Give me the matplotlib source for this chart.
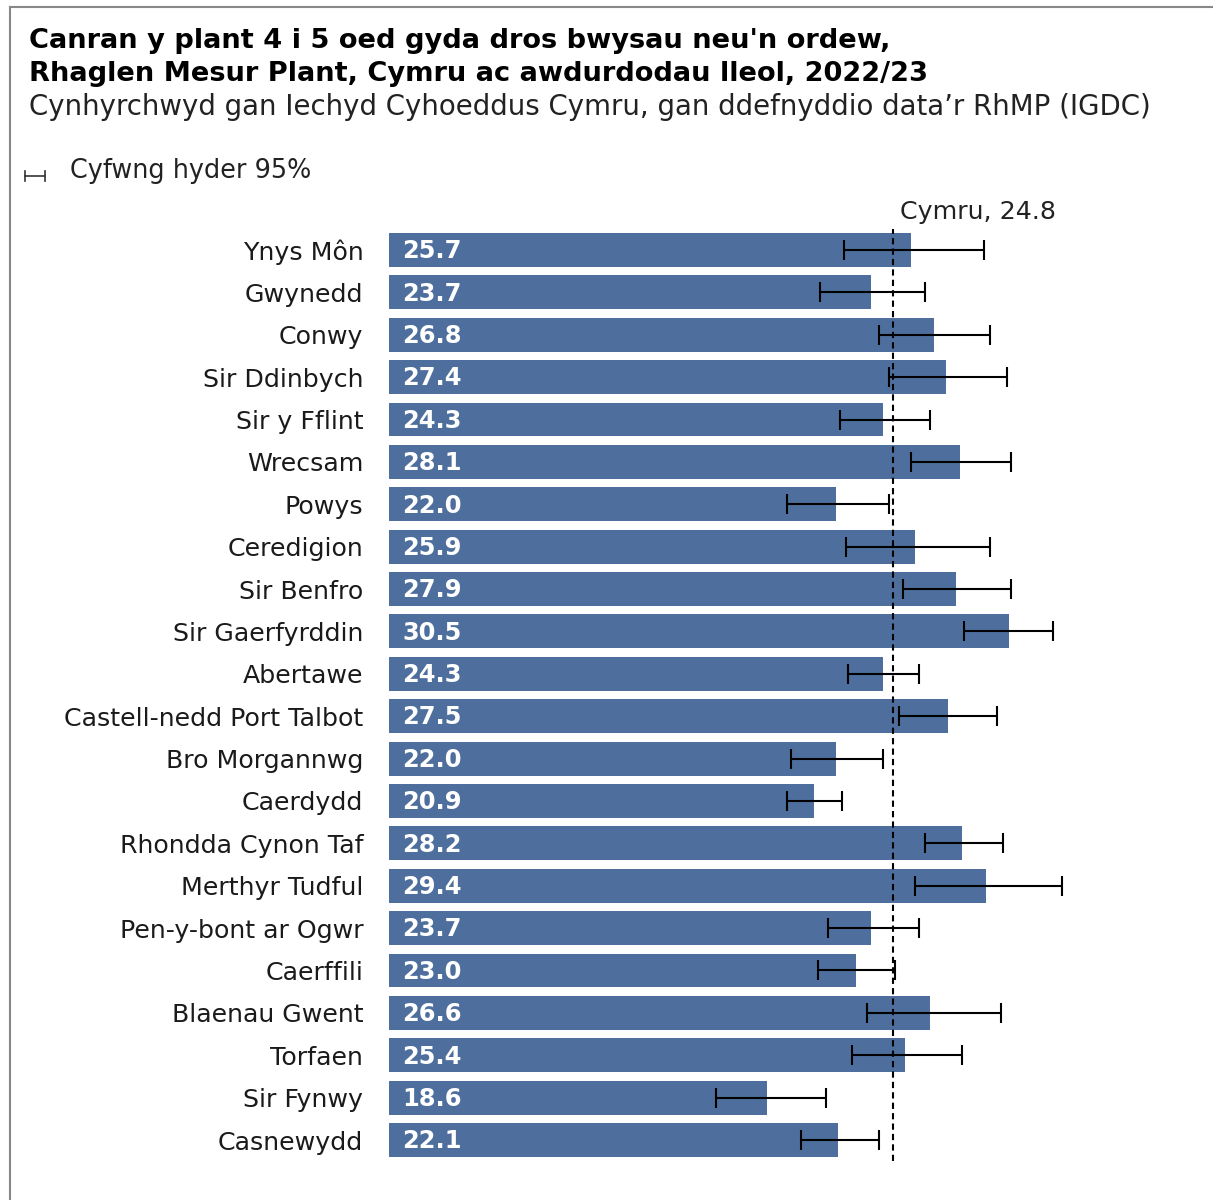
import matplotlib
matplotlib.use("Agg")
import matplotlib.pyplot as plt
from matplotlib.lines import Line2D
import numpy as np

areas = ["Ynys Môn", "Gwynedd", "Conwy", "Sir Ddinbych", "Sir y Fflint", "Wrecsam",
         "Powys", "Ceredigion", "Sir Benfro", "Sir Gaerfyrddin", "Abertawe",
         "Castell-nedd Port Talbot", "Bro Morgannwg", "Caerdydd", "Rhondda Cynon Taf",
         "Merthyr Tudful", "Pen-y-bont ar Ogwr", "Caerffili", "Blaenau Gwent",
         "Torfaen", "Sir Fynwy", "Casnewydd"]
values = [25.7, 23.7, 26.8, 27.4, 24.3, 28.1, 22.0, 25.9, 27.9, 30.5, 24.3,
          27.5, 22.0, 20.9, 28.2, 29.4, 23.7, 23.0, 26.6, 25.4, 18.6, 22.1]
ci_low = [22.4, 21.2, 24.1, 24.6, 22.2, 25.7, 19.6, 22.5, 25.3, 28.3, 22.6,
          25.1, 19.8, 19.6, 26.4, 25.9, 21.6, 21.1, 23.5, 22.8, 16.1, 20.3]
ci_high = [29.3, 26.4, 29.6, 30.4, 26.6, 30.6, 24.6, 29.6, 30.6, 32.7, 26.1,
           29.9, 24.3, 22.3, 30.2, 33.1, 26.1, 24.9, 30.1, 28.2, 21.5, 24.1]
wales_value = 24.8

title_lines = ["Canran y plant 4 i 5 oed gyda dros bwysau neu'n ordew,",
               "Rhaglen Mesur Plant, Cymru ac awdurdodau lleol, 2022/23"]
subtitle = "Cynhyrchwyd gan Iechyd Cyhoeddus Cymru, gan ddefnyddio data’r RhMP (IGDC)"
legend_label = "Cyfwng hyder 95%"

plt.rcParams['font.family'] = ['DejaVu Sans']

W, H = 1213, 1200
fig = plt.figure(figsize=(W / 100, H / 100), dpi=100)

def fx(px):
    return px / W

def fy(py):
    return 1 - py / H

# axes placement (pixels)
ax_left, ax_right = 389, 389 + 39 * 20.32
ax_top, ax_bottom = 228.8, 1161.2
ax = fig.add_axes([fx(ax_left), fy(ax_bottom), fx(ax_right - ax_left), (ax_bottom - ax_top) / H])
ax.set_xlim(0, 39)
n = len(areas)
y = np.arange(n)
ax.set_ylim(n - 0.5, -0.5)

bar_color = "#4E6F9D"
ax.barh(y, values, height=0.8, color=bar_color, zorder=2)
lo_err = np.array(values) - np.array(ci_low)
hi_err = np.array(ci_high) - np.array(values)
ax.errorbar(values, y, xerr=[lo_err, hi_err], fmt='none', ecolor='black',
            elinewidth=1.5, capsize=7, capthick=1.5, zorder=4)
ax.axvline(wales_value, color='black', linestyle=(0, (3, 2)), linewidth=1.5, zorder=3)

for yi, v in zip(y, values):
    ax.text(0.65, yi + 0.03, f"{v:.1f}", color='white', fontweight='bold', fontsize=17.4,
            va='center', ha='left', zorder=5)

ax.set_yticks(y)
ax.set_yticklabels(areas, fontsize=18.2, color='#1a1a1a')
ax.tick_params(axis='y', length=0, pad=18.5)
ax.set_xticks([])
for s in ax.spines.values():
    s.set_visible(False)

ax.text(wales_value + 0.35, -0.62, f"Cymru, {wales_value}", fontsize=18.2,
        ha='left', va='bottom', color='#222222')

# titles
fig.text(fx(29), fy(41), title_lines[0], fontsize=19.6, fontweight='bold', va='center', ha='left')
fig.text(fx(29), fy(74), title_lines[1], fontsize=19.6, fontweight='bold', va='center', ha='left')
fig.text(fx(29), fy(107), subtitle, fontsize=19.9, va='center', ha='left', color='#222222')

# legend
fig.add_artist(Line2D([fx(25), fx(45)], [fy(176), fy(176)], color='#333333', lw=1.2))
fig.add_artist(Line2D([fx(25), fx(25)], [fy(171), fy(181)], color='#333333', lw=1.2))
fig.add_artist(Line2D([fx(45), fx(45)], [fy(171), fy(181)], color='#333333', lw=1.2))
fig.text(fx(70), fy(171), legend_label, fontsize=18.4, va='center', ha='left', color='#222222')

# frame
fig.add_artist(Line2D([fx(10), fx(W)], [fy(6.5), fy(6.5)], color='#888888', lw=1.5))
fig.add_artist(Line2D([fx(10), fx(10)], [fy(6.5), fy(H)], color='#888888', lw=1.5))

fig.savefig("out.png", dpi=100)
